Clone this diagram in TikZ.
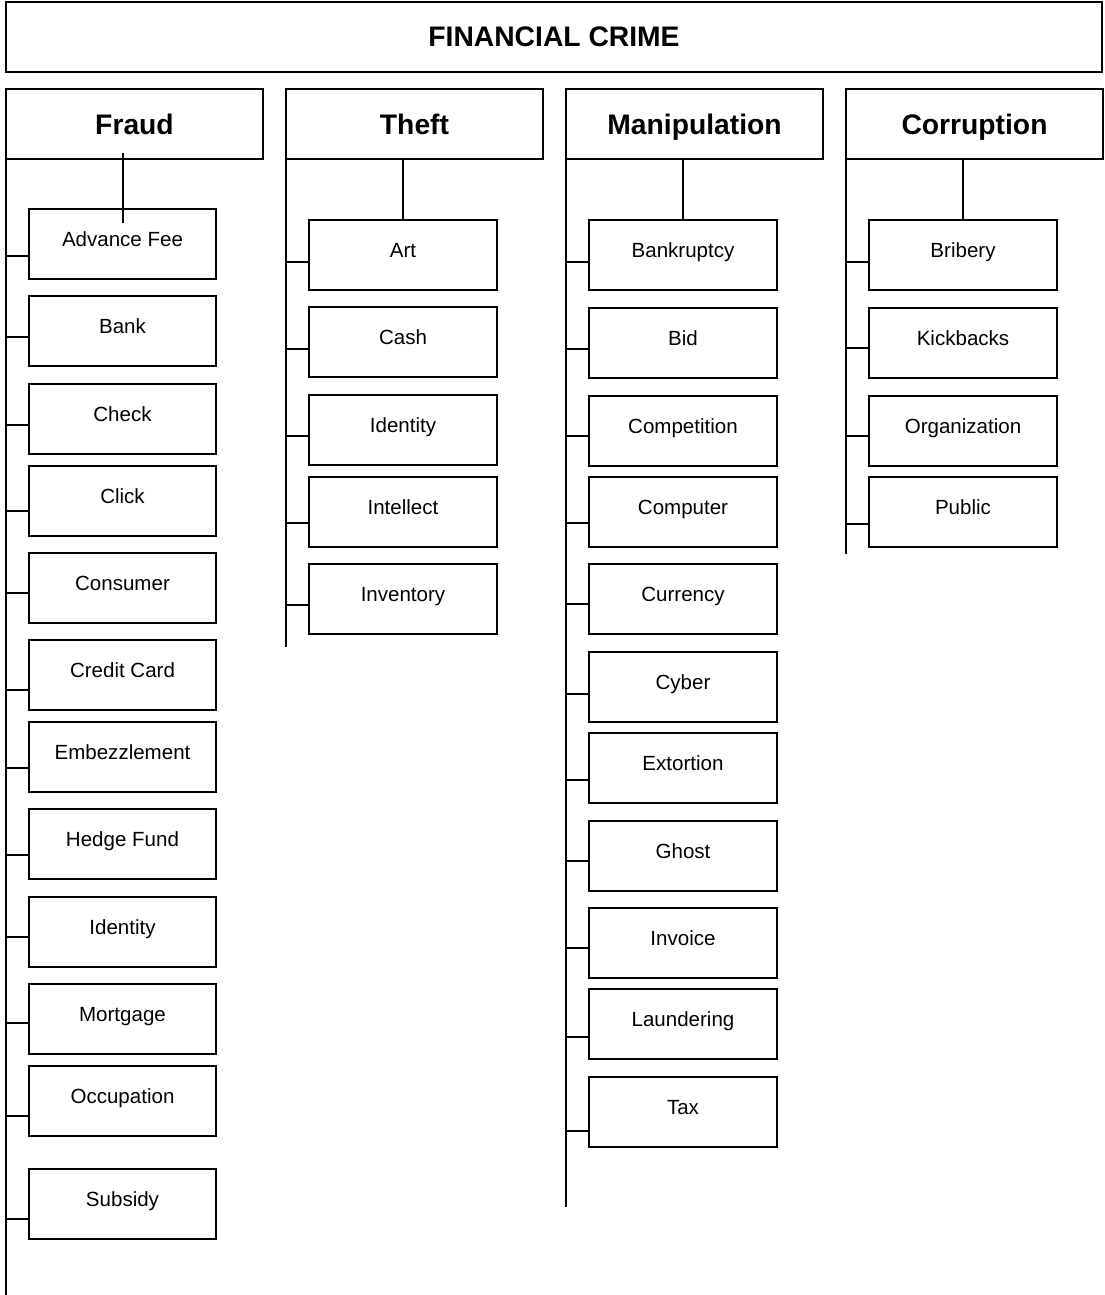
\documentclass[tikz,border=0pt]{standalone}
\usepackage{fontspec}
\setmainfont{Liberation Sans}
\begin{document}
\begin{tikzpicture}[x=0.75pt,y=-0.75pt,
  topbox/.style={draw,line width=1.4pt,outer sep=0pt,inner sep=0pt,minimum width=822pt,minimum height=52.5pt,
     font=\fontsize{21.2}{24}\selectfont\bfseries,text height=16pt,text depth=1pt},
  headbox/.style={draw,line width=1.4pt,outer sep=0pt,inner sep=0pt,minimum width=192.75pt,minimum height=52.5pt,
     font=\fontsize{21.2}{24}\selectfont\bfseries,text height=16pt,text depth=1pt},
  childbox/.style={draw,line width=1.4pt,outer sep=0pt,inner sep=0pt,minimum width=140.6pt,minimum height=52.5pt,
     font=\fontsize{15.4}{18}\selectfont,text height=10pt,text depth=6.25pt},
  conn/.style={line width=1.0pt}]
\useasboundingbox (0,0) rectangle (1104,1295);

\node[topbox] (fc) at (554,37) {FINANCIAL CRIME};

\node[headbox] (fraud) at (134.5,124) {Fraud};
\node[headbox] (theft) at (414.5,124) {Theft};
\node[headbox] (manip) at (694.5,124) {Manipulation};
\node[headbox] (corr) at (974.5,124) {Corruption};

% Fraud
\foreach \t/\c/\s [count=\i] in {Advance Fee/244/256, Bank/331/337, Check/419/425, Click/501/511,
  Consumer/588/593, Credit Card/675/690, Embezzlement/757/768, Hedge Fund/844/855,
  Identity/932/937, Mortgage/1019/1023, Occupation/1101/1116, Subsidy/1204/1219}{
  \node[childbox] (f\i) at (122.5,\c) {\t};
  \coordinate (fs\i) at (29,\s);
  \draw[conn] (fraud.west |- fs\i) -- (f\i.west |- fs\i);
}
\coordinate (fend) at (6,1295);
\draw[conn] (fraud.south west) -- (fend);
\coordinate (fa) at (123,153);
\coordinate (fb) at (123,223);
\draw[conn] (fa) -- (fb);

% Theft
\foreach \t/\c/\s [count=\i] in {Art/255/262, Cash/342/349, Identity/430/436, Intellect/512/523, Inventory/599/605}{
  \node[childbox] (t\i) at (403,\c) {\t};
  \coordinate (ts\i) at (309,\s);
  \draw[conn] (theft.west |- ts\i) -- (t\i.west |- ts\i);
}
\coordinate (tend) at (286,647);
\draw[conn] (theft.south west) -- (tend);
\draw[conn] (theft.south -| t1.north) -- (t1.north);

% Manipulation
\foreach \t/\c/\s [count=\i] in {Bankruptcy/255/262, Bid/343/349, Competition/431/436, Computer/512/523,
  Currency/599/604, Cyber/687/694, Extortion/768/780, Ghost/856/861, Invoice/943/948,
  Laundering/1024/1037, Tax/1112/1131}{
  \node[childbox] (m\i) at (683,\c) {\t};
  \coordinate (ms\i) at (589,\s);
  \draw[conn] (manip.west |- ms\i) -- (m\i.west |- ms\i);
}
\coordinate (mend) at (566,1207);
\draw[conn] (manip.south west) -- (mend);
\draw[conn] (manip.south -| m1.north) -- (m1.north);

% Corruption
\foreach \t/\c/\s [count=\i] in {Bribery/255/262, Kickbacks/343/348, Organization/431/436, Public/512/524}{
  \node[childbox] (c\i) at (963,\c) {\t};
  \coordinate (cs\i) at (869,\s);
  \draw[conn] (corr.west |- cs\i) -- (c\i.west |- cs\i);
}
\coordinate (cend) at (846,554);
\draw[conn] (corr.south west) -- (cend);
\draw[conn] (corr.south -| c1.north) -- (c1.north);
\end{tikzpicture}
\end{document}
